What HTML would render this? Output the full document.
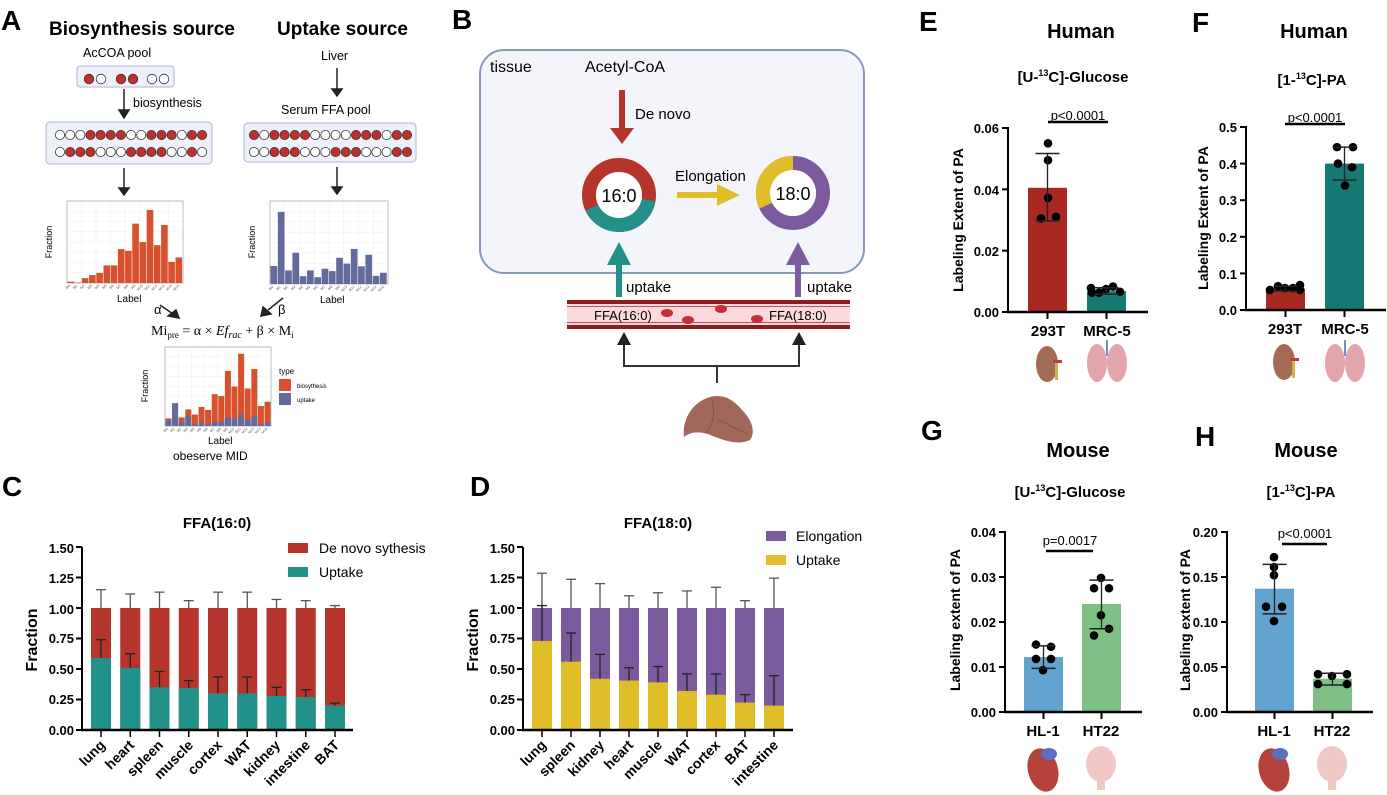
<!DOCTYPE html>
<html><head><meta charset="utf-8"><style>
html,body{margin:0;padding:0;background:#fff;}
svg{display:block;font-family:"Liberation Sans",Arial,sans-serif;}
.b{font-weight:bold}
</style></head><body>
<svg id="s" width="1387" height="795" viewBox="0 0 1387 795" xmlns="http://www.w3.org/2000/svg">
<g class="b" font-size="28" fill="#000">
<text x="1" y="30">A</text><text x="452" y="29">B</text>
<text x="2" y="496">C</text><text x="470" y="496">D</text>
<text x="919" y="31">E</text><text x="1192" y="32">F</text>
<text x="921" y="440">G</text><text x="1195" y="446">H</text>
</g>
<text x="49" y="35" class="b" font-size="19">Biosynthesis source</text>
<text x="277" y="35" class="b" font-size="19">Uptake source</text>
<text x="83" y="57" font-size="12.5">AcCOA pool</text>
<text x="321" y="60" font-size="12.5">Liver</text>
<text x="133" y="107" font-size="12.5">biosynthesis</text>
<text x="281" y="114" font-size="12.5">Serum FFA pool</text>
<rect x="77" y="66" width="97" height="21" rx="3" fill="#eef1f9" stroke="#aab6d8"/>
<rect x="46" y="122" width="166" height="42" rx="4" fill="#eef1f9" stroke="#aab6d8"/>
<rect x="244" y="123" width="172" height="39" rx="4" fill="#eef1f9" stroke="#aab6d8"/>
<g id="a"></g>
<g stroke="#222" stroke-width="1.5" fill="#222">
<line x1="124" y1="89" x2="124" y2="112"/><path d="M119,110 L129,110 L124,118Z"/>
<line x1="337" y1="68" x2="337" y2="90"/><path d="M332,89 L342,89 L337,96Z"/>
<line x1="124" y1="168" x2="124" y2="189"/><path d="M119,188 L129,188 L124,195Z"/>
<line x1="337" y1="167" x2="337" y2="188"/><path d="M332,187 L342,187 L337,194Z"/>
<line x1="160" y1="305" x2="173" y2="314"/><path d="M168,316 L176,310 L179,318Z"/>
<line x1="283" y1="298" x2="268" y2="310"/><path d="M263,307 L271,314 L261,316Z"/>
</g>
<text x="154" y="314" font-size="13">α</text>
<text x="278" y="314" font-size="13">β</text>
<text x="151" y="335" font-family="Liberation Serif,serif" font-size="14">Mi<tspan font-size="9" dy="3">pre</tspan><tspan dy="-3"> = α × </tspan><tspan font-style="italic">Ef</tspan><tspan font-style="italic" font-size="10" dy="3">rac</tspan><tspan dy="-3"> + β × M</tspan><tspan font-size="9" dy="3">i</tspan></text>
<g font-size="9" text-anchor="middle">
<text transform="translate(52,242) rotate(-90)">Fraction</text>
<text transform="translate(255,242) rotate(-90)">Fraction</text>
<text transform="translate(148,386) rotate(-90)">Fraction</text>
</g>
<text x="117" y="302" font-size="10">Label</text>
<text x="320" y="303" font-size="10">Label</text>
<text x="208" y="444" font-size="10">Label</text>
<text x="173" y="460" font-size="12">obeserve MID</text>
<text x="279" y="374" font-size="8">type</text>
<rect x="279" y="379" width="12" height="12" fill="#d9502c"/>
<rect x="279" y="393" width="12" height="12" fill="#626b9b"/>
<text x="297" y="388" font-size="6">biosythesis</text>
<text x="297" y="402" font-size="6">uptake</text>
<rect x="480" y="50" width="384" height="223" rx="24" fill="#f3f5fb" stroke="#8797c0" stroke-width="2"/>
<text x="490" y="72" font-size="16">tissue</text>
<text x="585" y="72" font-size="16">Acetyl-CoA</text>
<rect x="619" y="90" width="6" height="40" fill="#b5352c"/><path d="M610,128 L634,128 L622,144Z" fill="#b5352c"/>
<text x="635" y="119" font-size="15">De novo</text>
<circle cx="619" cy="195" r="30" fill="none" stroke="#b5352c" stroke-width="14"/>
<path d="M648.5,200.2 A30,30 0 0 1 591.8,207.7" fill="none" stroke="#21918a" stroke-width="14"/>
<circle cx="619" cy="195" r="23" fill="#fff"/>
<text x="619" y="202" font-size="18" text-anchor="middle">16:0</text>
<text x="675" y="181" font-size="15">Elongation</text>
<rect x="677" y="192" width="42" height="6" fill="#e0be2a"/><path d="M717,184 L740,195 L717,206Z" fill="#e0be2a"/>
<circle cx="793" cy="193" r="30" fill="none" stroke="#7c5a9e" stroke-width="14"/>
<path d="M765.8,205.7 A30,30 0 0 1 793,163" fill="none" stroke="#e0be2a" stroke-width="14"/>
<circle cx="793" cy="193" r="23" fill="#fff"/>
<text x="793" y="200" font-size="18" text-anchor="middle">18:0</text>
<rect x="616" y="262" width="6" height="35" fill="#21918a"/><path d="M607,265 L631,265 L619,242Z" fill="#21918a"/>
<rect x="795" y="262" width="6" height="35" fill="#7c5a9e"/><path d="M786,265 L810,265 L798,242Z" fill="#7c5a9e"/>
<text x="626" y="292" font-size="15">uptake</text>
<text x="807" y="292" font-size="15">uptake</text>
<rect x="567" y="300" width="283" height="29" fill="#fadadd"/>
<rect x="567" y="300" width="283" height="4" fill="#8e1c1f"/><rect x="567" y="325" width="283" height="4" fill="#8e1c1f"/>
<rect x="567" y="306" width="283" height="1" fill="#c0505a"/><rect x="567" y="322" width="283" height="1" fill="#c0505a"/>
<text x="594" y="320" font-size="13">FFA(16:0)</text>
<text x="769" y="320" font-size="13">FFA(18:0)</text>
<g fill="#c62f35"><ellipse cx="667" cy="313" rx="6" ry="4"/><ellipse cx="688" cy="320" rx="6" ry="4"/><ellipse cx="721" cy="309" rx="6" ry="4"/><ellipse cx="757" cy="319" rx="6" ry="4"/></g>
<path d="M624,345 L624,366 L799,366 L799,345 M717,366 L717,383" fill="none" stroke="#333" stroke-width="2"/>
<path d="M617,345 L631,345 L624,332Z M792,345 L806,345 L799,332Z" fill="#222"/>
<path d="M684,437 C682,420 692,402 710,397 C722,394 732,398 742,410 C752,420 756,432 750,440 C738,446 722,440 708,434 C698,431 690,432 684,437Z" fill="#a3665a"/>
<path d="M712,400 C716,415 712,428 705,433 M718,420 C728,424 738,430 748,434" fill="none" stroke="#8a5247" stroke-width="1"/>
<text x="217" y="528" class="b" font-size="15" text-anchor="middle">FFA(16:0)</text>
<text x="658" y="528" class="b" font-size="15" text-anchor="middle">FFA(18:0)</text>
<rect x="288" y="543" width="20" height="10" fill="#b5352c"/><text x="319" y="553" font-size="14">De novo sythesis</text>
<rect x="288" y="567" width="20" height="10" fill="#21918a"/><text x="319" y="577" font-size="14">Uptake</text>
<rect x="766" y="531" width="20" height="10" fill="#7c5a9e"/><text x="796" y="541" font-size="14">Elongation</text>
<rect x="766" y="555" width="20" height="10" fill="#e0be2a"/><text x="796" y="565" font-size="14">Uptake</text>
<g class="b" font-size="13" text-anchor="end">
<text x="74" y="553">1.50</text><text x="74" y="583">1.25</text><text x="74" y="614">1.00</text><text x="74" y="643">0.75</text><text x="74" y="674">0.50</text><text x="74" y="704">0.25</text><text x="74" y="735">0.00</text>
<text x="515" y="553">1.50</text><text x="515" y="583">1.25</text><text x="515" y="614">1.00</text><text x="515" y="643">0.75</text><text x="515" y="674">0.50</text><text x="515" y="704">0.25</text><text x="515" y="735">0.00</text>
</g>
<text class="b" font-size="16" text-anchor="middle" transform="translate(37,640) rotate(-90)">Fraction</text>
<text class="b" font-size="16" text-anchor="middle" transform="translate(478,640) rotate(-90)">Fraction</text>
<g class="b" font-size="14" text-anchor="end">
<g transform="translate(106,746) rotate(-45)"><text>lung</text></g>
<g transform="translate(135,746) rotate(-45)"><text>heart</text></g>
<g transform="translate(164,746) rotate(-45)"><text>spleen</text></g>
<g transform="translate(194,746) rotate(-45)"><text>muscle</text></g>
<g transform="translate(223,746) rotate(-45)"><text>cortex</text></g>
<g transform="translate(252,746) rotate(-45)"><text>WAT</text></g>
<g transform="translate(281,746) rotate(-45)"><text>kidney</text></g>
<g transform="translate(311,746) rotate(-45)"><text>intestine</text></g>
<g transform="translate(340,746) rotate(-45)"><text>BAT</text></g>
<g transform="translate(547,746) rotate(-45)"><text>lung</text></g>
<g transform="translate(576,746) rotate(-45)"><text>spleen</text></g>
<g transform="translate(605,746) rotate(-45)"><text>kidney</text></g>
<g transform="translate(634,746) rotate(-45)"><text>heart</text></g>
<g transform="translate(663,746) rotate(-45)"><text>muscle</text></g>
<g transform="translate(692,746) rotate(-45)"><text>WAT</text></g>
<g transform="translate(721,746) rotate(-45)"><text>cortex</text></g>
<g transform="translate(750,746) rotate(-45)"><text>BAT</text></g>
<g transform="translate(779,746) rotate(-45)"><text>intestine</text></g>
</g>
<g class="b" text-anchor="middle">
<text x="1081" y="38" font-size="20">Human</text>
<text x="1314" y="38" font-size="20">Human</text>
<text x="1078" y="457" font-size="20">Mouse</text>
<text x="1306" y="457" font-size="20">Mouse</text>
<text x="1073" y="82" font-size="15">[U-<tspan font-size="9" dy="-6">13</tspan><tspan dy="6">C]-Glucose</tspan></text>
<text x="1312" y="85" font-size="15">[1-<tspan font-size="9" dy="-6">13</tspan><tspan dy="6">C]-PA</tspan></text>
<text x="1070" y="497" font-size="15">[U-<tspan font-size="9" dy="-6">13</tspan><tspan dy="6">C]-Glucose</tspan></text>
<text x="1301" y="497" font-size="15">[1-<tspan font-size="9" dy="-6">13</tspan><tspan dy="6">C]-PA</tspan></text>
<text x="1048" y="336" font-size="15">293T</text><text x="1107" y="336" font-size="15">MRC-5</text>
<text x="1285" y="334" font-size="15">293T</text><text x="1345" y="334" font-size="15">MRC-5</text>
<text x="1043" y="736" font-size="15">HL-1</text><text x="1101" y="736" font-size="15">HT22</text>
<text x="1274" y="736" font-size="15">HL-1</text><text x="1332" y="736" font-size="15">HT22</text>
</g>
<g font-size="13" text-anchor="middle">
<text x="1078" y="120">p&lt;0.0001</text><text x="1315" y="122">p&lt;0.0001</text>
<text x="1070" y="545">p=0.0017</text><text x="1305" y="538">p&lt;0.0001</text>
</g>
<g class="b" font-size="13" text-anchor="end">
<text x="999" y="133">0.06</text><text x="999" y="195">0.04</text><text x="999" y="256">0.02</text><text x="999" y="317">0.00</text>
<text x="1237" y="132">0.5</text><text x="1237" y="169">0.4</text><text x="1237" y="205">0.3</text><text x="1237" y="242">0.2</text><text x="1237" y="279">0.1</text><text x="1237" y="315">0.0</text>
<text x="996" y="537">0.04</text><text x="996" y="582">0.03</text><text x="996" y="627">0.02</text><text x="996" y="672">0.01</text><text x="996" y="717">0.00</text>
<text x="1218" y="537">0.20</text><text x="1218" y="582">0.15</text><text x="1218" y="627">0.10</text><text x="1218" y="672">0.05</text><text x="1218" y="717">0.00</text>
</g>
<g class="b" font-size="14" text-anchor="middle">
<text transform="translate(963,220) rotate(-90)">Labeling Extent of PA</text>
<text transform="translate(1208,218) rotate(-90)">Labeling Extent of PA</text>
<text transform="translate(960,620) rotate(-90)">Labeling extent of PA</text>
<text transform="translate(1190,620) rotate(-90)">Labeling extent of PA</text>
</g>
<g id="g"></g>
</svg>
<script>
var o='';
function r(x,y,w,h,f,e){o+='<rect x="'+x+'" y="'+y+'" width="'+w+'" height="'+h+'" fill="'+f+'"'+(e||'')+'/>';}
function l(x1,y1,x2,y2,c,w){o+='<line x1="'+x1+'" y1="'+y1+'" x2="'+x2+'" y2="'+y2+'" stroke="'+(c||'#000')+'" stroke-width="'+(w||1.5)+'"/>';}
function c(x,y,rr,f,e){o+='<circle cx="'+x+'" cy="'+y+'" r="'+rr+'" fill="'+f+'"'+(e||'')+'/>';}
function rowc(x0,st,y,p){for(var k=0;k<p.length;k++)c(x0+st*k,y,4.6,p[k]=='1'?'#c0302a':'#fff',' stroke="#333" stroke-width="0.8"');}
[89,101,121,133,152,164].forEach(function(x,i){c(x,79,4.8,i<1||i==2||i==3?'#c0302a':'#fff',' stroke="#333" stroke-width="0.8"');});
rowc(60,10.15,135,'000111100111011');rowc(60,10.15,152,'011100011110010');
rowc(254,10.2,135,'1011110000111011');rowc(254,10.2,152,'0011100011100011');
function grid(x,y,w,h,n){r(x,y,w,h,'#fff',' stroke="#aaa" stroke-width="0.8"');for(var i=1;i<8;i++){l(x+w*i/8,y,x+w*i/8,y+h,'#eee',0.6);l(x,y+h*i/8,x+w,y+h*i/8,'#eee',0.6);}
 for(var k=0;k<16;k++){var tx=x+w*(k+0.5)/16;o+='<text font-size="3.5" fill="#555" text-anchor="end" transform="translate('+tx+','+(y+h+3)+') rotate(-45)">M'+k+'</text>';}}
grid(67,201,116,82);
var v1=[.003,.001,.011,.018,.023,.04,.04,.077,.073,.135,.093,.166,.086,.132,.048,.058];
v1.forEach(function(v,i){var h=v*440;r(67.5+i*7.2,283-h,6.6,h,'#d9502c');});
grid(270,201,118,83);
var v2=[.053,.212,.04,.092,.023,.04,.02,.045,.038,.077,.06,.103,.052,.086,.024,.033];
v2.forEach(function(v,i){var h=v*340;r(270.5+i*7.3,284-h,6.7,h,'#626b9b');});
grid(165,347,106,79);
var t3=[.016,.048,.018,.035,.024,.04,.034,.067,.063,.116,.083,.152,.079,.12,.042,.051];
var u3=[.013,.048,.009,.021,.004,.008,.004,.009,.009,.018,.016,.024,.012,.02,.004,.008];
t3.forEach(function(v,i){var x=165.5+i*6.6;r(x,426-v*475,6,v*475,'#d9502c');r(x,426-u3[i]*475,6,u3[i]*475,'#626b9b');});
function Y(v){return 730-v*122;}
function stack(ox,x0,st,up,e1,e2,ct,cb,xe){
 for(var i=0;i<9;i++){var x=x0+st*i,cx=x+10;
  r(x,Y(1),20,Y(0)-Y(1),ct);r(x,Y(up[i]),20,Y(0)-Y(up[i]),cb);
  l(cx,Y(1),cx,Y(e2[i]),'#555',1.3);l(cx-5,Y(e2[i]),cx+5,Y(e2[i]),'#555',1.3);
  l(cx,Y(up[i]),cx,Y(e1[i]),'#222',1.3);l(cx-5,Y(e1[i]),cx+5,Y(e1[i]),'#222',1.3);
  l(cx,730,cx,737,'#000',1.5);}
 l(ox,547,ox,731,'#000',2);l(ox-1,730,xe,730,'#000',2.5);
 for(var k=0;k<7;k++)l(ox-6,Y(k*.25),ox,Y(k*.25),'#000',2);
}
stack(82,91,29.25,[.59,.51,.35,.345,.30,.30,.28,.27,.20],[.74,.625,.48,.405,.435,.435,.35,.33,.22],[1.15,1.115,1.13,1.06,1.13,1.13,1.07,1.06,1.02],'#b5352c','#21918a',353);
stack(523,532,29,[.73,.56,.42,.405,.39,.32,.29,.225,.20],[1.02,.795,.62,.51,.52,.46,.46,.29,.445],[1.285,1.235,1.2,1.1,1.125,1.14,1.17,1.06,1.245],'#7c5a9e','#e0be2a',793);
function bc(ox,y0,yt,vm,xe,nt,bars,px1,px2,py){
 var k=(y0-yt)/vm;function yy(v){return y0-v*k;}
 bars.forEach(function(b){r(b.x,yy(b.v),39,y0-yy(b.v),b.c);var cx=b.x+19.5;
  l(cx,y0,cx,y0+7,'#000',2);
  b.d.forEach(function(d){c(d[0],yy(d[1]),4.3,'#000');});
  l(cx,yy(b.lo),cx,yy(b.hi),'#222',1.3);l(cx-12,yy(b.lo),cx+12,yy(b.lo),'#222',1.5);l(cx-12,yy(b.hi),cx+12,yy(b.hi),'#222',1.5);});
 l(ox,yt-1,ox,y0+1,'#000',2);l(ox-1,y0,xe,y0,'#000',2.5);
 for(var i=0;i<=nt;i++){var y=y0-(y0-yt)*i/nt;l(ox-6,y,ox,y,'#000',2);}
 l(px1,py,px2,py,'#000',2.5);
}
bc(1008,312,128,.06,1148,3,[
 {x:1028,v:.0405,c:'#a82822',lo:.0297,hi:.0517,d:[[1048,.055],[1048,.0495],[1048,.0372],[1041,.0305],[1056,.031]]},
 {x:1087,v:.0068,c:'#147a73',lo:.0058,hi:.0079,d:[[1091,.0078],[1099,.0063],[1106,.0075],[1113,.0083],[1120,.0066],[1092,.0063]]}],1048,1108,122);
bc(1246,310,127,.5,1386,5,[
 {x:1266,v:.058,c:'#a82822',lo:.052,hi:.065,d:[[1270,.055],[1278,.065],[1285,.06],[1293,.06],[1300,.068],[1300,.055]]},
 {x:1325,v:.4,c:'#147a73',lo:.355,hi:.445,d:[[1337,.445],[1353,.445],[1338,.40],[1352,.39],[1345,.34]]}],1285,1345,124);
bc(1005,712,532,.04,1142,4,[
 {x:1024,v:.0122,c:'#62a3d0',lo:.0097,hi:.0147,d:[[1036,.015],[1051,.0145],[1036,.0118],[1051,.0118],[1043,.0093]]},
 {x:1082,v:.024,c:'#7ebf85',lo:.0185,hi:.0293,d:[[1101,.0298],[1094,.0275],[1109,.0275],[1101,.0215],[1109,.0185],[1094,.017]]}],1046,1093,551);
bc(1227,712,532,.2,1373,4,[
 {x:1255,v:.137,c:'#62a3d0',lo:.109,hi:.164,d:[[1274,.172],[1274,.161],[1274,.152],[1266,.117],[1282,.117],[1274,.101]]},
 {x:1313,v:.037,c:'#7ebf85',lo:.030,hi:.043,d:[[1318,.042],[1347,.042],[1332,.040],[1318,.031],[1347,.031]]}],1282,1327,544);
function kid(x,y){o+='<ellipse cx="'+(x-3)+'" cy="'+y+'" rx="11" ry="18" fill="#a36b55"/><rect x="'+(x+5)+'" y="'+(y-2)+'" width="3" height="18" fill="#d4b24a"/><rect x="'+(x+3)+'" y="'+(y-4)+'" width="9" height="3" fill="#c23a3a"/>';}
function lung(x,y){o+='<ellipse cx="'+(x-10)+'" cy="'+(y+3)+'" rx="10" ry="19" fill="#e3a5ac"/><ellipse cx="'+(x+10)+'" cy="'+(y+3)+'" rx="10" ry="19" fill="#e3a5ac"/><rect x="'+(x-1)+'" y="'+(y-20)+'" width="2" height="16" fill="#6f8fc9"/>';}
function heart(x,y){o+='<ellipse cx="'+x+'" cy="'+y+'" rx="15" ry="22" fill="#b2423a" transform="rotate(-15 '+x+' '+y+')"/><ellipse cx="'+(x+6)+'" cy="'+(y-16)+'" rx="8" ry="6" fill="#5a6fc0"/>';}
function brain(x,y){o+='<ellipse cx="'+x+'" cy="'+(y-4)+'" rx="15" ry="18" fill="#f0c9c6"/><rect x="'+(x-4)+'" y="'+(y+10)+'" width="8" height="12" fill="#f0c9c6"/>';}
kid(1050,364);lung(1107,360);kid(1287,362);lung(1345,360);
heart(1043,770);brain(1101,768);heart(1274,770);brain(1332,768);
document.getElementById('g').innerHTML=o;
</script>
</body></html>
